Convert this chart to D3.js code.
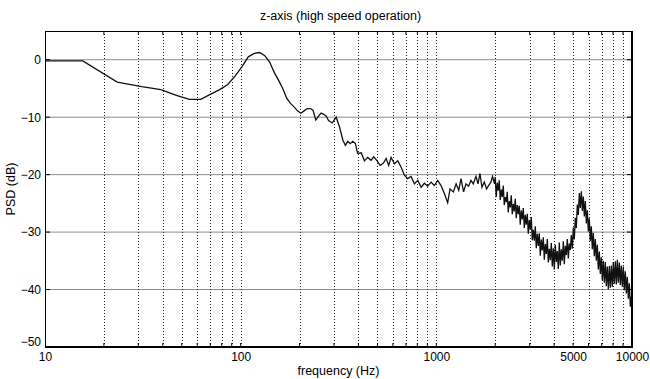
<!DOCTYPE html>
<html><head><meta charset="utf-8">
<script src="https://cdn.jsdelivr.net/npm/d3@7"></script>
<style>body{margin:0;background:#fff}svg{display:block}text{font-family:"Liberation Sans",Arial,sans-serif;fill:#000}</style>
</head><body><svg id="c" width="650" height="379"></svg>
<script>
const title = "z-axis (high speed operation)";
const xLabel = "frequency (Hz)";
const yLabel = "PSD (dB)";
const xTickValues = [10, 100, 1000, 5000, 10000];
const xTickLabels = ["10", "100", "1000", "5000", "10000"];
const yTickValues = [0, -10, -20, -30, -40, -50];
const xGridValues = [20,30,40,50,60,70,80,90,100,200,300,400,500,600,700,800,900,1000,2000,3000,4000,5000,6000,7000,8000,9000];

// frequency (Hz) / PSD (dB)
const freqLow = [10,15.6,23.4,31.2,39.1,46.9,54.7,62.5,70.3,78.1,85.9,93.8,101.6,109.4,117.2,125,132.8,140.6,148.4,156.3,164.1,171.9,179.7,187.5,195.3,203.1,210.9,218.8,226.6,234.4,242.2,250,257.8,265.6,273.4,281.3,293.6,307.8,320,333,343,352.6,363,374,386,396,413,429,446,464,479,496,516,537,554,571,587,611,635,661,687,714,743,773,804,836,869,903,940,977,1016,1057,1099,1143,1175,1222,1262,1301,1337,1378,1418,1462,1503,1545,1595,1633,1671,1711,1758,1806,1849,1901,1937,1983];
const psdLow = [-0.2,-0.2,-3.9,-4.7,-5.2,-6.2,-6.9,-6.9,-6.0,-5.2,-4.3,-2.8,-1.2,0.5,1.1,1.25,0.7,-0.4,-2.2,-3.6,-5.0,-6.7,-7.6,-8.2,-8.9,-9.3,-8.9,-8.5,-8.5,-8.8,-10.5,-9.8,-9.3,-9.5,-9.8,-10.6,-11.0,-10.0,-11.7,-14.0,-14.9,-14.2,-14.6,-14.2,-14.6,-16.3,-16.2,-17.6,-17.0,-17.5,-16.9,-17.5,-18.4,-18.0,-17.2,-18.4,-17.0,-18.1,-17.6,-18.7,-20.1,-20.7,-20.3,-21.6,-21.0,-22.2,-21.5,-22.0,-21.3,-21.9,-21.0,-21.9,-23.3,-24.9,-22.5,-23.0,-21.6,-22.7,-20.7,-23.0,-21.6,-22.0,-21.0,-21.6,-20.3,-21.6,-19.8,-22.2,-21.3,-22.5,-21.9,-21.3,-20.3,-21.6];
const freqHigh = [2000,2024,2048,2072,2097,2122,2147,2172,2198,2224,2250,2277,2304,2331,2359,2387,2415,2444,2473,2502,2532,2562,2592,2623,2654,2685,2717,2749,2782,2815,2848,2882,2916,2951,2986,3021,3057,3093,3130,3167,3204,3242,3281,3320,3359,3399,3439,3480,3521,3563,3605,3648,3691,3735,3779,3824,3869,3915,3961,4008,4056,4104,4152,4201,4251,4301,4352,4404,4456,4509,4562,4616,4671,4726,4782,4839,4896,4954,5013,5072,5132,5193,5254,5317,5380,5443,5508,5573,5639,5706,5773,5842,5911,5981,6051,6123,6195,6269,6343,6418,6494,6571,6649,6727,6807,6888,6969,7052,7135,7220,7305,7392,7479,7568,7657,7748,7840,7932,8026,8121,8217,8315,8413,8513,8614,8716,8819,8923,9029,9136,9244,9353,9464,9576,9690,9804,9920,10000];
const psdHigh = [-20.4,-23.9,-21.4,-22.8,-21.0,-24.4,-22.6,-23.9,-21.9,-25.3,-23.9,-24.8,-23.0,-26.6,-24.6,-25.7,-23.6,-26.9,-25.1,-26.4,-24.2,-27.6,-25.3,-26.9,-25.4,-28.7,-26.2,-27.8,-25.8,-29.3,-27.0,-28.7,-26.8,-30.3,-27.9,-29.6,-27.4,-31.4,-29.6,-31.5,-29.0,-32.8,-30.3,-32.4,-30.2,-34.1,-31.3,-33.2,-30.9,-34.8,-32.1,-33.8,-31.2,-35.3,-32.9,-34.9,-31.9,-36.0,-32.8,-36.5,-32.2,-35.2,-33.3,-36.4,-31.8,-35.8,-33.0,-35.0,-31.6,-35.6,-32.4,-34.0,-31.2,-34.6,-32.0,-33.1,-30.5,-32.9,-29.2,-31.3,-27.5,-29.3,-25.2,-27.0,-23.2,-25.8,-22.9,-26.3,-23.8,-27.3,-24.6,-28.5,-26.2,-29.9,-27.6,-31.6,-29.0,-33.0,-30.1,-34.2,-31.2,-35.0,-32.2,-36.5,-33.4,-37.3,-34.4,-38.4,-35.0,-38.8,-35.2,-39.4,-36.0,-40.0,-35.9,-39.7,-35.8,-39.5,-35.2,-39.0,-35.1,-39.1,-34.8,-38.8,-35.3,-39.2,-35.8,-39.5,-36.0,-40.1,-36.8,-40.7,-37.8,-41.6,-38.9,-43.0,-41.2,-43.8];

const svg = d3.select("#c");
const L = 45, R = 632, T = 31, B = 347;
const x = d3.scaleLog().domain([10, 10000]).range([L, R]);
const y = d3.scaleLinear().domain([-50, 5]).range([B, T]);

// horizontal grid
svg.append("g").selectAll("line").data(yTickValues.filter(v => v > -50)).join("line")
  .attr("x1", L).attr("x2", R).attr("y1", d => y(d)).attr("y2", d => y(d))
  .attr("stroke", "#8c8c8c").attr("stroke-width", 1);
// vertical dotted grid
svg.append("g").selectAll("line").data(xGridValues).join("line")
  .attr("x1", d => Math.round(x(d)) + 0.5).attr("x2", d => Math.round(x(d)) + 0.5)
  .attr("y1", T).attr("y2", B)
  .attr("stroke", "#222").attr("stroke-width", 1).attr("stroke-dasharray", "1,2");

// data line
const data = freqLow.map((f, i) => [f, psdLow[i]]).concat(freqHigh.map((f, i) => [f, psdHigh[i]]));
svg.append("path").datum(data)
  .attr("fill", "none").attr("stroke", "#111").attr("stroke-width", 1.3)
  .attr("d", d3.line().x(d => x(d[0])).y(d => y(d[1])));

// axes
const gx = svg.append("g").attr("transform", `translate(0,${B})`)
  .call(d3.axisBottom(x).tickValues(xTickValues).tickFormat((d, i) => xTickLabels[i]).tickSize(0).tickPadding(5));
gx.select(".domain").remove();
gx.selectAll("text").attr("font-size", 12).attr("font-family", "Liberation Sans, Arial, sans-serif");
const gy = svg.append("g").attr("transform", `translate(${L},0)`)
  .call(d3.axisLeft(y).tickValues(yTickValues).tickFormat(d3.format("d")).tickSize(0).tickPadding(4));
gy.select(".domain").remove();
gy.selectAll("text").attr("font-size", 12).attr("font-family", "Liberation Sans, Arial, sans-serif");
gy.selectAll(".tick").filter(d => d === -50).select("text").attr("dy", "-0.1em");

// tick marks (inward)
const minor = xGridValues;
svg.append("g").selectAll("line").data(minor).join("line")
  .attr("x1", d => x(d)).attr("x2", d => x(d)).attr("y1", B).attr("y2", B - 4).attr("stroke", "#000");
svg.append("g").selectAll("line").data(minor).join("line")
  .attr("x1", d => x(d)).attr("x2", d => x(d)).attr("y1", T).attr("y2", T + 4).attr("stroke", "#000");
svg.append("g").selectAll("line").data(yTickValues).join("line")
  .attr("x1", L).attr("x2", L + 5).attr("y1", d => y(d)).attr("y2", d => y(d)).attr("stroke", "#000");
svg.append("g").selectAll("line").data(yTickValues).join("line")
  .attr("x1", R).attr("x2", R - 5).attr("y1", d => y(d)).attr("y2", d => y(d)).attr("stroke", "#000");

// frame
svg.append("line").attr("x1", L).attr("x2", R).attr("y1", T + 0.5).attr("y2", T + 0.5).attr("stroke", "#000");
svg.append("line").attr("x1", L + 0.5).attr("x2", L + 0.5).attr("y1", T).attr("y2", B).attr("stroke", "#000");
svg.append("line").attr("x1", L).attr("x2", R + 1).attr("y1", B).attr("y2", B).attr("stroke", "#000").attr("stroke-width", 2);
svg.append("line").attr("x1", R).attr("x2", R).attr("y1", T).attr("y2", B).attr("stroke", "#000").attr("stroke-width", 2);

// titles
svg.append("text").attr("x", (L + R) / 2 + 2).attr("y", 20).attr("text-anchor", "middle").attr("font-size", 12.5).text(title);
svg.append("text").attr("x", (L + R) / 2).attr("y", 375).attr("text-anchor", "middle").attr("font-size", 12.5).text(xLabel);
svg.append("text").attr("transform", `translate(15,${(T + B) / 2}) rotate(-90)`).attr("text-anchor", "middle").attr("font-size", 12.5).text(yLabel);
</script></body></html>
